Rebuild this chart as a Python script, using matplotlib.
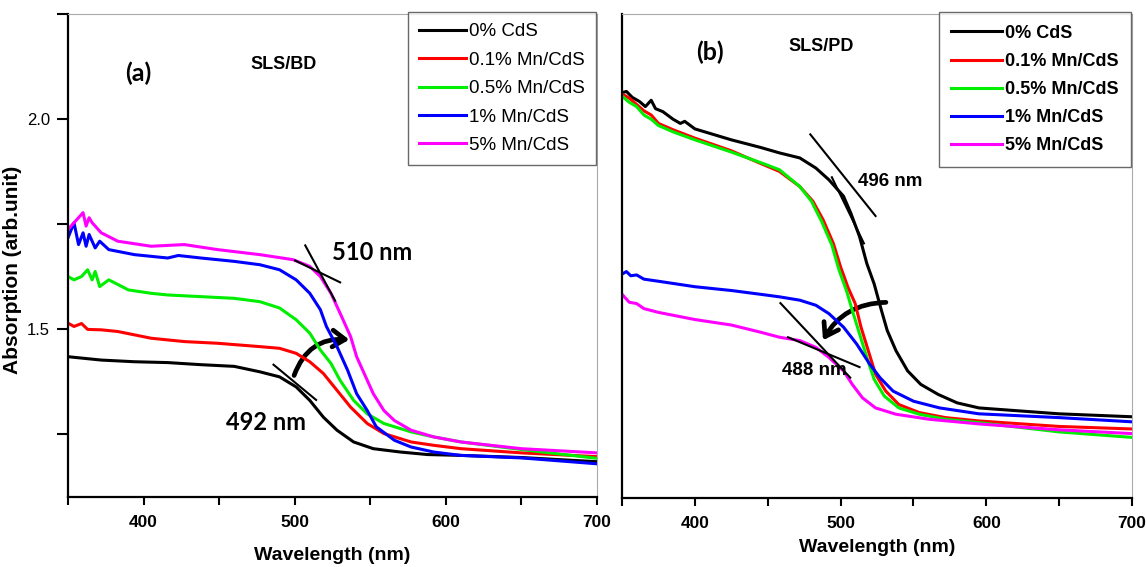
import matplotlib
matplotlib.use("Agg")
import matplotlib.pyplot as plt
from matplotlib.patches import FancyArrowPatch

plt.rcParams['font.family'] = ['Liberation Sans', 'DejaVu Sans']

labels = ["0% CdS", "0.1% Mn/CdS", "0.5% Mn/CdS", "1% Mn/CdS", "5% Mn/CdS"]
colors = ["#000000", "#ff0000", "#00ee00", "#0000ff", "#ff00ff"]

# ---- panel (a) SLS/BD : values ----
a_black_x = [350, 372, 394, 416, 438, 460, 477, 490, 501, 510, 519, 528, 539, 552, 570, 588, 610, 650, 700]
a_black_y = [1.434, 1.426, 1.422, 1.420, 1.415, 1.411, 1.398, 1.386, 1.362, 1.330, 1.290, 1.259, 1.231,
             1.215, 1.207, 1.201, 1.199, 1.194, 1.184]
a_red_x = [350, 354, 359, 363, 372, 383, 405, 427, 449, 477, 490, 501, 510, 519, 528, 537, 548, 559,
           577, 592, 610, 650, 700]
a_red_y = [1.514, 1.506, 1.513, 1.499, 1.498, 1.494, 1.478, 1.470, 1.466, 1.458, 1.454, 1.442, 1.422,
           1.394, 1.354, 1.314, 1.275, 1.251, 1.231, 1.223, 1.215, 1.205, 1.196]
a_green_x = [350, 354, 359, 363, 366, 368, 371, 377, 390, 405, 416, 438, 460, 477, 490, 501, 510, 517,
             524, 530, 539, 548, 559, 577, 592, 610, 650, 700]
a_green_y = [1.625, 1.617, 1.625, 1.641, 1.617, 1.637, 1.601, 1.617, 1.593, 1.585, 1.581, 1.577, 1.573,
             1.565, 1.550, 1.522, 1.490, 1.450, 1.418, 1.378, 1.330, 1.298, 1.275, 1.255, 1.243, 1.231,
             1.213, 1.192]
a_blue_x = [350, 354, 357, 360, 362, 364, 368, 371, 377, 394, 416, 423, 438, 460, 477, 490, 501, 510,
            517, 521, 528, 535, 541, 548, 554, 566, 577, 592, 610, 650, 700]
a_blue_y = [1.717, 1.753, 1.701, 1.729, 1.697, 1.725, 1.693, 1.709, 1.689, 1.677, 1.669, 1.675, 1.669,
            1.661, 1.653, 1.641, 1.617, 1.585, 1.546, 1.506, 1.458, 1.402, 1.346, 1.306, 1.267, 1.235,
            1.219, 1.207, 1.199, 1.193, 1.179]
a_mag_x = [350, 360, 362, 364, 366, 372, 383, 405, 427, 449, 477, 499, 510, 517, 524, 530, 537, 541,
           546, 552, 559, 566, 577, 592, 610, 650, 700]
a_mag_y = [1.737, 1.777, 1.745, 1.765, 1.753, 1.729, 1.709, 1.697, 1.701, 1.689, 1.677, 1.665, 1.649,
           1.625, 1.585, 1.538, 1.482, 1.434, 1.394, 1.346, 1.306, 1.282, 1.259, 1.243, 1.231, 1.215,
           1.205]

# ---- panel (b) SLS/PD ----
b_black_x = [350, 353, 357, 362, 366, 370, 373, 378, 385, 390, 393, 400, 425, 445, 458, 472, 483, 492,
             502, 507, 513, 518, 523, 528, 532, 538, 546, 555, 567, 580, 595, 650, 700]
b_black_y = [2.063, 2.066, 2.052, 2.042, 2.030, 2.045, 2.025, 2.018, 2.000, 1.990, 1.995, 1.977, 1.951,
             1.933, 1.920, 1.908, 1.884, 1.856, 1.817, 1.777, 1.721, 1.657, 1.609, 1.546, 1.498, 1.450,
             1.402, 1.370, 1.346, 1.326, 1.314, 1.300, 1.293]
b_red_x = [350, 355, 360, 365, 370, 375, 385, 400, 425, 445, 458, 472, 481, 488, 495, 500, 505, 510,
           514, 519, 524, 531, 540, 554, 572, 595, 650, 700]
b_red_y = [2.060, 2.050, 2.035, 2.020, 2.010, 1.990, 1.975, 1.955, 1.925, 1.895, 1.876, 1.840, 1.805,
           1.761, 1.705, 1.649, 1.601, 1.562, 1.506, 1.450, 1.394, 1.354, 1.322, 1.303, 1.291, 1.283,
           1.270, 1.264]
b_green_x = [350, 355, 360, 365, 370, 375, 385, 400, 425, 445, 458, 472, 480, 487, 494, 499, 504, 508,
             513, 518, 523, 530, 540, 554, 572, 595, 650, 700]
b_green_y = [2.055, 2.040, 2.030, 2.010, 2.000, 1.985, 1.970, 1.951, 1.922, 1.897, 1.880, 1.840, 1.805,
             1.757, 1.701, 1.641, 1.593, 1.546, 1.490, 1.434, 1.382, 1.342, 1.314, 1.299, 1.287, 1.279,
             1.257, 1.244]
b_blue_x = [350, 353, 356, 360, 365, 375, 400, 425, 445, 458, 472, 483, 492, 502, 511, 520, 527, 536,
            550, 568, 595, 650, 700]
b_blue_y = [1.632, 1.638, 1.628, 1.630, 1.620, 1.615, 1.602, 1.593, 1.584, 1.578, 1.570, 1.558, 1.538,
            1.506, 1.466, 1.418, 1.386, 1.354, 1.330, 1.314, 1.300, 1.291, 1.281]
b_mag_x = [350, 355, 360, 365, 375, 400, 425, 445, 458, 472, 483, 492, 502, 508, 515, 524, 538, 561,
           595, 650, 700]
b_mag_y = [1.584, 1.565, 1.562, 1.550, 1.541, 1.524, 1.511, 1.494, 1.482, 1.474, 1.458, 1.434, 1.402,
           1.370, 1.338, 1.314, 1.299, 1.287, 1.276, 1.262, 1.253]

a_series = [(a_black_x, a_black_y), (a_red_x, a_red_y), (a_green_x, a_green_y),
            (a_blue_x, a_blue_y), (a_mag_x, a_mag_y)]
b_series = [(b_black_x, b_black_y), (b_red_x, b_red_y), (b_green_x, b_green_y),
            (b_blue_x, b_blue_y), (b_mag_x, b_mag_y)]

# tangent lines ((x0, x1), (y0, y1))
a_tangents = [((507, 526.8), (1.699, 1.567)), ((500.3, 530.1), (1.663, 1.611)),
              ((486, 514.2), (1.415, 1.331))]
b_tangents = [((479.2, 524), (1.964, 1.770)), ((494, 516), (1.862, 1.705)),
              ((458.7, 506.6), (1.563, 1.386)), ((463.9, 513), (1.482, 1.411))]

fig = plt.figure(figsize=(11.46, 5.67), dpi=100)
ax_a = fig.add_axes([0.0593, 0.1235, 0.4616, 0.8518])
ax_b = fig.add_axes([0.5428, 0.1217, 0.445, 0.8536])

for ax, series in [(ax_a, a_series), (ax_b, b_series)]:
    for (x, y), c, lab in zip(series, colors, labels):
        ax.plot(x, y, color=c, lw=2.2, label=lab)
    ax.set_xlim(350, 700)
    ax.set_ylim(1.1, 2.25)
    ax.set_xticks([350, 400, 450, 500, 550, 600, 650, 700])
    ax.set_xticklabels(["", "400", "", "500", "", "600", "", "700"])
    ax.tick_params(axis='x', direction='out', length=6, width=1.5, pad=7, labelsize=12.5)
    for t in ax.get_xticklabels():
        t.set_fontweight('bold')
    for s in ['left', 'bottom']:
        ax.spines[s].set_linewidth(1.6)
    for s in ['top', 'right']:
        ax.spines[s].set_linewidth(0.8)
        ax.spines[s].set_color('#aaaaaa')

for (xs, ys) in a_tangents:
    ax_a.plot(xs, ys, color='k', lw=1.5)
for (xs, ys) in b_tangents:
    ax_b.plot(xs, ys, color='k', lw=1.5)

# panel (a) axes
ax_a.set_yticks([1.25, 1.5, 1.75, 2.0, 2.25])
ax_a.set_yticklabels(["", "1.5", "", "2.0", ""])
ax_a.tick_params(axis='y', direction='out', length=8, width=1.5, pad=5, labelsize=12)
ax_a.set_ylabel("Absorption (arb.unit)", fontsize=15, fontweight='bold')
ax_a.yaxis.set_label_coords(-0.087, 0.47)
ax_a.set_xlabel("Wavelength (nm)", fontsize=14, fontweight='bold')
ax_a.xaxis.set_label_coords(0.5, -0.122)
ax_a.xaxis.label.set_va('center')

ax_b.set_yticks([])
ax_b.set_xlabel("Wavelength (nm)", fontsize=14, fontweight='bold')
ax_b.xaxis.set_label_coords(0.5, -0.103)
ax_b.xaxis.label.set_va('center')

leg_a = ax_a.legend(loc='upper right', bbox_to_anchor=(0.998, 1.004), borderaxespad=0,
                    fontsize=13.5, handlelength=2.5, handletextpad=0.15, labelspacing=0.6,
                    fancybox=False, edgecolor='#444444', borderpad=0.6)
leg_a.get_frame().set_linewidth(1.0)
leg_b = ax_b.legend(loc='upper right', bbox_to_anchor=(0.998, 1.004), borderaxespad=0,
                    prop={'size': 13, 'weight': 'bold'}, handlelength=2.8, handletextpad=0.15,
                    labelspacing=0.62, fancybox=False, edgecolor='#444444', borderpad=0.7)
leg_b.get_frame().set_linewidth(1.0)

# labels and annotations
ax_a.text(396.4, 2.108, "(a)", fontsize=18, fontweight='bold', ha='center', va='center',
          family=['Lato', 'DejaVu Sans'])
ax_a.text(492.4, 2.129, "SLS/BD", fontsize=13, fontweight='bold', ha='center', va='center')
ax_a.text(551.3, 1.682, "510 nm", fontsize=17, fontweight='bold', ha='center', va='center',
          family=['Lato', 'DejaVu Sans'])
ax_a.text(481.1, 1.278, "492 nm", fontsize=17, fontweight='bold', ha='center', va='center',
          family=['Lato', 'DejaVu Sans'])

ax_b.text(410.3, 2.158, "(b)", fontsize=18, fontweight='bold', ha='center', va='center',
          family=['Lato', 'DejaVu Sans'])
ax_b.text(486.3, 2.172, "SLS/PD", fontsize=13, fontweight='bold', ha='center', va='center')
ax_b.text(534.2, 1.852, "496 nm", fontsize=13.5, fontweight='bold', ha='center', va='center',
          family=['Liberation Sans Narrow', 'Liberation Sans'])
ax_b.text(482.2, 1.402, "488 nm", fontsize=13.5, fontweight='bold', ha='center', va='center',
          family=['Liberation Sans Narrow', 'Liberation Sans'])

arr_a = FancyArrowPatch((499, 1.383), (538, 1.474), connectionstyle="arc3,rad=-0.4",
                        arrowstyle="->,head_length=9,head_width=6", lw=3.4, color='k',
                        mutation_scale=1)
ax_a.add_patch(arr_a)
arr_b = FancyArrowPatch((533, 1.565), (487, 1.469), connectionstyle="arc3,rad=0.3",
                        arrowstyle="->,head_length=9,head_width=6", lw=3.4, color='k',
                        mutation_scale=1)
ax_b.add_patch(arr_b)

fig.savefig("out.png", dpi=100)
